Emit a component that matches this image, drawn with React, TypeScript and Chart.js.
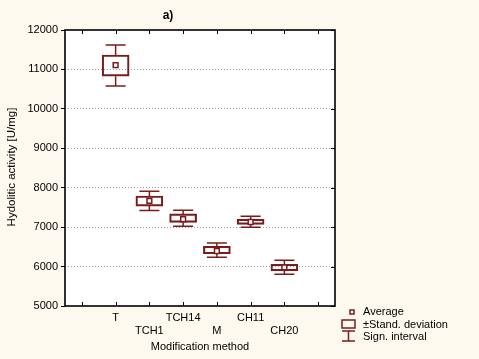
import React, { useEffect, useRef } from "react";
import { Chart, registerables } from "chart.js";

Chart.register(...registerables);

const categories = ["T", "TCH1", "TCH14", "M", "CH11", "CH20"];
const means = [11110, 7665, 7200, 6395, 7130, 5980];
const sdLow = [10830, 7535, 7120, 6325, 7070, 5890];
const sdHigh = [11365, 7790, 7335, 6515, 7200, 6060];
const ciLow = [10580, 7425, 7020, 6235, 6995, 5805];
const ciHigh = [11620, 7910, 7430, 6600, 7275, 6160];
const yTicks = [5000, 6000, 7000, 8000, 9000, 10000, 11000, 12000];
const xTickPositions = [0, 1, 2, 3, 4, 5, 6, 7];

const DARK = "#7a1c1c";
const BG = "#fdf9ee";
const FONT = "'Liberation Sans', Arial, sans-serif";
const LW = 1.5;

const decorPlugin = {
  id: "decor",
  beforeDraw(chart: any) {
    const { ctx, chartArea: a } = chart;
    ctx.save();
    ctx.fillStyle = BG;
    ctx.fillRect(0, 0, chart.width, chart.height);
    ctx.fillStyle = "#ffffff";
    ctx.fillRect(a.left, a.top, a.right - a.left, a.bottom - a.top);
    ctx.restore();
  },
  afterDatasetsDraw(chart: any) {
    const { ctx } = chart;
    const xs = chart.scales.x;
    const ys = chart.scales.y;
    ctx.save();
    ctx.strokeStyle = DARK;
    ctx.lineWidth = LW;
    const cap = 10;
    categories.forEach((_, i) => {
      const x = xs.getPixelForValue(i + 1);
      const pairs = [
        [sdHigh[i], ciHigh[i]],
        [sdLow[i], ciLow[i]],
      ];
      pairs.forEach(([from, to]) => {
        const y0 = ys.getPixelForValue(from);
        const y1 = ys.getPixelForValue(to);
        ctx.beginPath();
        ctx.moveTo(x, y0);
        ctx.lineTo(x, y1);
        ctx.moveTo(x - cap, y1);
        ctx.lineTo(x + cap, y1);
        ctx.stroke();
      });
    });
    ctx.restore();
  },
  afterDraw(chart: any) {
    const { ctx, chartArea: a } = chart;
    const xs = chart.scales.x;
    const ys = chart.scales.y;
    ctx.save();
    ctx.strokeStyle = "#000";
    ctx.lineWidth = 1.6;
    ctx.strokeRect(a.left, a.top, a.right - a.left, a.bottom - a.top);
    ctx.lineWidth = 1;
    ctx.beginPath();
    xTickPositions.forEach((v) => {
      const x = Math.round(xs.getPixelForValue(v)) + 0.5;
      ctx.moveTo(x, a.top);
      ctx.lineTo(x, a.top + 4);
      ctx.moveTo(x, a.bottom);
      ctx.lineTo(x, a.bottom - 4);
    });
    yTicks.forEach((v) => {
      const y = Math.round(ys.getPixelForValue(v)) + 0.5;
      ctx.moveTo(a.right, y);
      ctx.lineTo(a.right - 4, y);
    });
    ctx.stroke();

    ctx.fillStyle = "#000";
    ctx.font = `bold 12px ${FONT}`;
    ctx.textAlign = "center";
    ctx.textBaseline = "middle";
    ctx.fillText("a)", 168, 16);

    ctx.font = `11.5px ${FONT}`;
    ctx.save();
    ctx.translate(12, 167);
    ctx.rotate(-Math.PI / 2);
    ctx.fillText("Hydolitic activity [U/mg]", 0, 0);
    ctx.restore();

    ctx.font = `11px ${FONT}`;
    ctx.textAlign = "left";
    ctx.fillText("Average", 363, 312);
    ctx.fillText("\u00b1Stand. deviation", 363, 324.5);
    ctx.fillText("Sign. interval", 363, 337);
    ctx.strokeStyle = DARK;
    ctx.lineWidth = LW;
    ctx.strokeRect(350, 310, 4, 4);
    ctx.strokeRect(342, 320, 13, 8);
    ctx.beginPath();
    ctx.moveTo(342, 331);
    ctx.lineTo(355, 331);
    ctx.moveTo(348.5, 331);
    ctx.lineTo(348.5, 341);
    ctx.moveTo(342, 341);
    ctx.lineTo(355, 341);
    ctx.stroke();
    ctx.restore();
  },
};

export default function App() {
  const ref = useRef<HTMLCanvasElement>(null);
  useEffect(() => {
    document.body.style.margin = "0";
    const canvas = ref.current;
    if (!canvas) return;
    const chart = new Chart(canvas, {
      type: "bar",
      data: {
        datasets: [
          {
            type: "scatter",
            data: means.map((m, i) => ({ x: i + 1, y: m })),
            pointStyle: "rect",
            pointRadius: 3.4,
            pointHoverRadius: 3.4,
            borderColor: DARK,
            backgroundColor: "#ffffff",
            pointBorderWidth: LW,
            order: 0,
          } as any,
          {
            type: "bar",
            data: categories.map((_, i) => ({ x: i + 1, y: [sdLow[i], sdHigh[i]] })),
            backgroundColor: "rgba(255,255,255,0)",
            borderColor: DARK,
            borderWidth: LW,
            borderSkipped: false,
            barThickness: 27,
            order: 1,
          } as any,
        ],
      },
      options: {
        responsive: false,
        animation: false,
        devicePixelRatio: 1,
        layout: { padding: { top: 30, right: 144, left: 0, bottom: 0 } },
        plugins: {
          legend: { display: false },
          tooltip: { enabled: false },
          title: { display: false },
        },
        scales: {
          x: {
            type: "linear",
            min: -0.5,
            max: 7.5,
            offset: false,
            afterBuildTicks: (scale: any) => {
              scale.ticks = xTickPositions.map((v) => ({ value: v }));
            },
            afterFit: (scale: any) => {
              scale.height = 53;
            },
            grid: { display: false, drawTicks: false, offset: false },
            border: { display: false },
            ticks: {
              autoSkip: false,
              maxRotation: 0,
              padding: 6,
              color: "#000",
              font: { family: FONT, size: 11, lineHeight: 1.12 },
              callback: (v: any) => {
                const idx = Number(v) - 1;
                if (idx < 0 || idx >= categories.length) return "";
                return idx % 2 === 0 ? [categories[idx]] : ["", categories[idx]];
              },
            },
            title: {
              display: true,
              text: "Modification method",
              color: "#000",
              font: { family: FONT, size: 11 },
              padding: { top: 0, bottom: 5 },
            },
          },
          y: {
            min: 5000,
            max: 12000,
            afterBuildTicks: (scale: any) => {
              scale.ticks = yTicks.map((v) => ({ value: v }));
            },
            afterFit: (scale: any) => {
              scale.width = 65;
            },
            grid: {
              color: (c: any) =>
                c.tick && (c.tick.value === 5000 || c.tick.value === 12000)
                  ? "rgba(0,0,0,0)"
                  : "#a0a0a0",
              tickColor: "#000",
              tickBorderDash: [],
              lineWidth: 1,
              tickLength: 4,
            } as any,
            border: { display: false, dash: [1, 2] },
            ticks: {
              padding: 3,
              color: "#000",
              font: { family: FONT, size: 11 },
              callback: (v: any) => String(v),
            },
          },
        },
      } as any,
      plugins: [decorPlugin],
    });
    return () => chart.destroy();
  }, []);
  return (
    <div style={{ position: "absolute", left: 0, top: 0, width: 479, height: 359 }}>
      <canvas ref={ref} width={479} height={359} />
    </div>
  );
}
